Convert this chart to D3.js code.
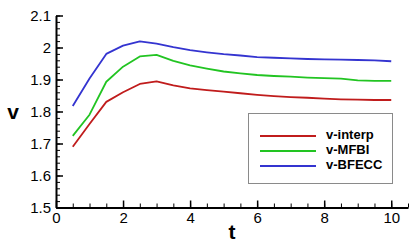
<!DOCTYPE html>
<html>
<head>
<meta charset="utf-8">
<script src="https://cdn.jsdelivr.net/npm/d3@7"></script>
<style>
  body { margin: 0; background: #fff; }
  svg text { font-family: "Liberation Sans", Arial, sans-serif; }
</style>
</head>
<body>
<svg id="chart" width="419" height="245"></svg>
<script>
// data
const times = [0.5, 1, 1.5, 2, 2.5, 3, 3.5, 4, 4.5, 5, 5.5, 6, 6.5, 7, 7.5, 8, 8.5, 9, 9.5, 10];
const vInterp = [1.690, 1.761, 1.830, 1.860, 1.886, 1.894, 1.882, 1.872, 1.867, 1.862,
                 1.857, 1.852, 1.848, 1.845, 1.843, 1.840, 1.838, 1.837, 1.836, 1.836];
const vMFBI = [1.724, 1.790, 1.893, 1.940, 1.972, 1.977, 1.958, 1.944, 1.934, 1.925,
               1.919, 1.914, 1.911, 1.909, 1.906, 1.904, 1.903, 1.897, 1.896, 1.896];
const vBFECC = [1.817, 1.903, 1.980, 2.006, 2.019, 2.012, 2.001, 1.992, 1.985, 1.979,
                1.975, 1.970, 1.968, 1.966, 1.964, 1.963, 1.962, 1.961, 1.960, 1.957];
const seriesNames = ["v-interp", "v-MFBI", "v-BFECC"];
const seriesColors = ["#c01c1c", "#22c422", "#3434d0"];
const xTicks = [0, 2, 4, 6, 8, 10];
const yTicks = [1.5, 1.6, 1.7, 1.8, 1.9, 2, 2.1];

const series = [vInterp, vMFBI, vBFECC];

const svg = d3.select("#chart");

const x = d3.scaleLinear().domain([0, 10.5]).range([56, 408]);
const y = d3.scaleLinear().domain([1.5, 2.1]).range([207.5, 15.5]);

// minor ticks
svg.append("g")
  .attr("transform", `translate(0,${y(1.5)})`)
  .call(d3.axisBottom(x).tickValues(d3.range(0, 10.51, 0.5)).tickFormat("").tickSizeInner(-4).tickSizeOuter(0))
  .call(g => g.select(".domain").remove());
svg.append("g")
  .attr("transform", `translate(${x(0)},0)`)
  .call(d3.axisLeft(y).tickValues(d3.range(1.5, 2.101, 0.02)).tickFormat("").tickSizeInner(-4).tickSizeOuter(0))
  .call(g => g.select(".domain").remove());

// major axes
const xAxis = svg.append("g")
  .attr("transform", `translate(0,${y(1.5)})`)
  .call(d3.axisBottom(x).tickValues(xTicks).tickFormat(d3.format("d")).tickSizeInner(-7).tickSizeOuter(0).tickPadding(5));
const yAxis = svg.append("g")
  .attr("transform", `translate(${x(0)},0)`)
  .call(d3.axisLeft(y).tickValues(yTicks).tickFormat(d => d === 2 ? "2" : d3.format(".1f")(d)).tickSizeInner(-7).tickSizeOuter(0).tickPadding(5));

[xAxis, yAxis].forEach(g => {
  g.selectAll("path.domain").attr("stroke", "#000").attr("stroke-width", 2);
  g.selectAll(".tick line").attr("stroke", "#000").attr("stroke-width", 1.5);
  g.selectAll("text").attr("font-size", 15).attr("fill", "#000");
});
svg.selectAll(".tick line").attr("stroke", "#000");

// axis titles
svg.append("text").attr("x", 13).attr("y", 113)
  .attr("text-anchor", "middle").attr("dominant-baseline", "middle")
  .attr("font-size", 21).attr("font-weight", "bold").text("v");
svg.append("text").attr("x", 232).attr("y", 239)
  .attr("text-anchor", "middle")
  .attr("font-size", 21).attr("font-weight", "bold").text("t");

// lines
const line = d3.line().x((d, i) => x(times[i])).y(d => y(d));
series.forEach((s, k) => {
  svg.append("path").datum(s)
    .attr("fill", "none")
    .attr("stroke", seriesColors[k])
    .attr("stroke-width", 1.8)
    .attr("stroke-linejoin", "round")
    .attr("d", line);
});

// legend
const legend = svg.append("g");
legend.append("rect")
  .attr("x", 248.5).attr("y", 113.5).attr("width", 144).attr("height", 70)
  .attr("fill", "#fff").attr("stroke", "#8a8a8a").attr("stroke-width", 1);
seriesNames.forEach((name, k) => {
  const yy = 136 + k * 15;
  legend.append("line")
    .attr("x1", 260).attr("x2", 316).attr("y1", yy).attr("y2", yy)
    .attr("stroke", seriesColors[k]).attr("stroke-width", 1.8);
  legend.append("text")
    .attr("x", 326).attr("y", yy).attr("dominant-baseline", "middle")
    .attr("font-size", 13).attr("font-weight", "bold").text(name);
});
</script>
</body>
</html>
